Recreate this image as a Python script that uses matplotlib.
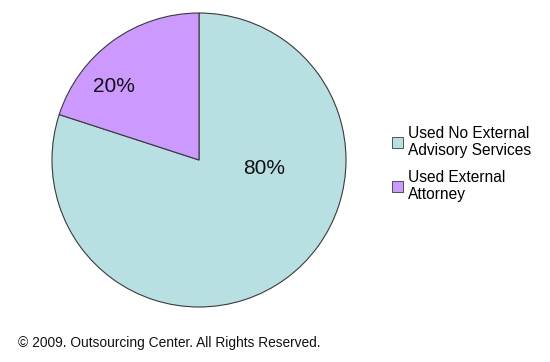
import matplotlib
matplotlib.use("Agg")
import matplotlib.pyplot as plt
from matplotlib.patches import Patch

plt.rcParams['font.family'] = ['Liberation Sans', 'DejaVu Sans']

labels = ["Used No External\nAdvisory Services", "Used External\nAttorney"]
values = [80, 20]
colors = ["#B8E0E3", "#CC99FF"]
pct_labels = ["80%", "20%"]

W, H = 550, 362
fig = plt.figure(figsize=(W / 100, H / 100), dpi=100)
cx, cy, r = 199, 160, 147
ax = fig.add_axes([(cx - r) / W, (H - cy - r) / H, 2 * r / W, 2 * r / H])
wedges, _ = ax.pie(values, colors=colors, startangle=90, counterclock=False,
                   radius=1, wedgeprops=dict(edgecolor="#3a3a3a", linewidth=0.8))
ax.set_xlim(-1, 1)
ax.set_ylim(-1, 1)
ax.set_aspect('equal')
ax.axis('off')

label_pos = [(0.44, -0.055), (-0.58, 0.50)]
for (x, y), t in zip(label_pos, pct_labels):
    ax.text(x, y, t, ha='center', va='center', fontsize=15, color='#111111')

handles = [Patch(facecolor=c, edgecolor="#3a3a3a", linewidth=0.6) for c in colors]
fig.legend(handles, labels, loc='upper left', bbox_to_anchor=(392 / W, 1 - 126 / H),
           frameon=False, fontsize=11.2, handlelength=0.7, handleheight=0.7,
           handletextpad=0.35, labelspacing=0.75, borderaxespad=0, borderpad=0)

fig.text(18 / W, 1 - 343 / H, "© 2009. Outsourcing Center. All Rights Reserved.",
         ha='left', va='center', fontsize=9.9, color='#111111')

fig.savefig("out.png", dpi=100, facecolor='white')
